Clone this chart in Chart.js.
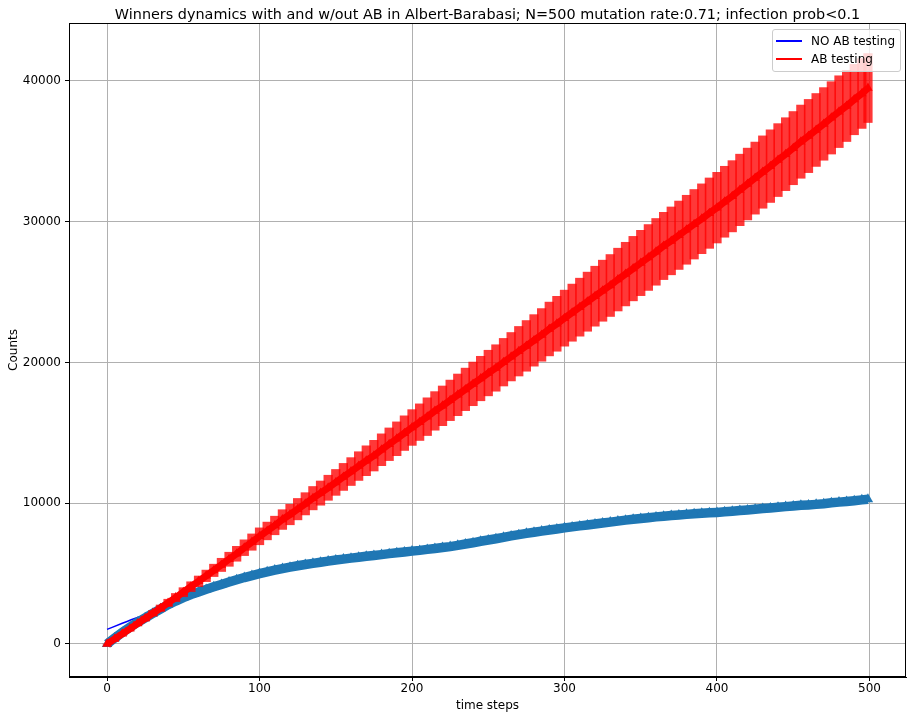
<!DOCTYPE html>
<html lang="en">
<head>
<meta charset="UTF-8">
<title>Winners dynamics with and w/out AB</title>
<script src="https://cdn.jsdelivr.net/npm/chart.js"></script>
<style>
    body { margin: 0; background: #fff; }
    .wrap { position: relative; width: 916px; height: 720px; }
    #chart { position: absolute; left: 0; top: 0; }
    .legend {
        position: absolute; left: 772px; top: 29px; width: 127px; height: 41px;
        background: rgba(255, 255, 255, 0.8); border: 1px solid #cccccc; border-radius: 3px;
        font-family: 'DejaVu Sans', sans-serif; font-size: 12px; color: #000;
    }
    .legend .row { position: absolute; left: 0; width: 127px; height: 16px; }
    .legend .swatch { position: absolute; left: 3px; top: 7px; width: 26px; height: 1.5px; }
    .legend .label { position: absolute; left: 38px; top: 0; line-height: 16px; white-space: nowrap; }
</style>
</head>
<body>
<div class="wrap">
    <canvas id="chart" width="916" height="720"></canvas>
    <div class="legend">
        <div class="row" style="top:3px"><div class="swatch" style="background:#0000ff"></div><span class="label">NO AB testing</span></div>
        <div class="row" style="top:21px"><div class="swatch" style="background:#ff0000"></div><span class="label">AB testing</span></div>
    </div>
</div>
<script>
// time steps (every 5th step)
const steps = [
    0, 5, 10, 15, 20, 25, 30, 35, 40, 45,
    50, 55, 60, 65, 70, 75, 80, 85, 90, 95,
    100, 105, 110, 115, 120, 125, 130, 135, 140, 145,
    150, 155, 160, 165, 170, 175, 180, 185, 190, 195,
    200, 205, 210, 215, 220, 225, 230, 235, 240, 245,
    250, 255, 260, 265, 270, 275, 280, 285, 290, 295,
    300, 305, 310, 315, 320, 325, 330, 335, 340, 345,
    350, 355, 360, 365, 370, 375, 380, 385, 390, 395,
    400, 405, 410, 415, 420, 425, 430, 435, 440, 445,
    450, 455, 460, 465, 470, 475, 480, 485, 490, 495,
    499
];

// NO AB testing, mean counts
const noAbCounts = [
    0, 420, 820, 1190, 1540, 1860, 2170, 2480, 2790, 3050,
    3290, 3510, 3690, 3880, 4060, 4230, 4400, 4560, 4720, 4860,
    5000, 5130, 5250, 5360, 5460, 5560, 5650, 5730, 5810, 5890,
    5970, 6030, 6100, 6160, 6230, 6290, 6350, 6420, 6480, 6540,
    6600, 6650, 6720, 6780, 6850, 6920, 7010, 7100, 7190, 7300,
    7390, 7480, 7580, 7680, 7770, 7860, 7940, 8020, 8100, 8170,
    8250, 8320, 8390, 8460, 8530, 8600, 8660, 8730, 8800, 8860,
    8920, 8970, 9030, 9080, 9130, 9170, 9210, 9250, 9290, 9320,
    9350, 9390, 9430, 9480, 9520, 9570, 9620, 9660, 9710, 9760,
    9800, 9850, 9880, 9920, 9960, 10030, 10080, 10130, 10180, 10240,
    10280
];

// AB testing, mean counts
const abCounts = [
    0, 360, 720, 1080, 1450, 1810, 2180, 2540, 2920, 3300,
    3680, 4070, 4450, 4840, 5230, 5620, 6020, 6410, 6840, 7240,
    7650, 8030, 8420, 8840, 9200, 9580, 9960, 10360, 10720, 11100,
    11480, 11870, 12250, 12640, 13020, 13380, 13800, 14190, 14580, 14980,
    15380, 15760, 16150, 16560, 16920, 17310, 17700, 18090, 18480, 18860,
    19250, 19610, 20020, 20410, 20800, 21180, 21570, 21960, 22380, 22750,
    23150, 23540, 23930, 24320, 24710, 25100, 25470, 25890, 26280, 26670,
    27070, 27460, 27860, 28280, 28640, 29040, 29430, 29820, 30210, 30610,
    31000, 31420, 31810, 32260, 32680, 33100, 33530, 33950, 34380, 34800,
    35230, 35690, 36090, 36520, 36950, 37380, 37820, 38230, 38680, 39110,
    39500
];

// AB testing, error bar half-height
const abErr = [
    0, 40, 80, 110, 140, 170, 200, 230, 260, 290,
    320, 350, 380, 410, 440, 470, 500, 530, 560, 580,
    600, 630, 660, 700, 730, 760, 790, 830, 860, 890,
    920, 960, 990, 1020, 1060, 1090, 1130, 1160, 1200, 1230,
    1270, 1300, 1340, 1370, 1410, 1440, 1480, 1510, 1550, 1580,
    1620, 1650, 1690, 1720, 1760, 1800, 1830, 1870, 1910, 1950,
    1990, 2030, 2060, 2100, 2130, 2170, 2200, 2230, 2260, 2290,
    2320, 2340, 2370, 2390, 2410, 2430, 2450, 2470, 2480, 2500,
    2510, 2520, 2530, 2540, 2550, 2560, 2570, 2580, 2590, 2590,
    2600, 2600, 2600, 2590, 2580, 2570, 2550, 2530, 2500, 2480,
    2450
];

// fitted curve for NO AB testing
const fitSteps = [0, 10, 20, 30, 40, 50, 60, 70, 80, 90, 100, 125, 150, 175, 200, 250, 300, 350, 400, 450, 499];
const fitCounts = [1040, 1470, 1880, 2250, 2640, 3130, 3520, 3900, 4230, 4560, 4840, 5400, 5830, 6150, 6450, 7240, 8100, 8780, 9220, 9680, 10150];

const xTicks = [0, 100, 200, 300, 400, 500];
const yTicks = [0, 10000, 20000, 30000, 40000];

const titleText = 'Winners dynamics with and w/out AB in Albert-Barabasi; N=500 mutation rate:0.71; infection prob<0.1';

const FONT = "'DejaVu Sans', sans-serif";

// title centred over the axes, plus top/right spines
const framePlugin = {
    id: 'frame',
    afterDraw(chart) {
        const { ctx, chartArea: a } = chart;
        ctx.save();
        ctx.strokeStyle = '#000';
        ctx.lineWidth = 1;
        ctx.strokeRect(a.left + 0.5, a.top + 0.5, a.right - a.left - 1, a.bottom - a.top - 1);
        ctx.fillStyle = '#000';
        ctx.font = '14.4px ' + FONT;
        ctx.textAlign = 'center';
        ctx.textBaseline = 'alphabetic';
        ctx.fillText(titleText, (a.left + a.right) / 2, 18.5);
        ctx.restore();
    }
};

const pts = (xs, ys) => xs.map((x, i) => ({ x: x, y: ys[i] }));

new Chart(document.getElementById('chart'), {
    type: 'bar',
    data: {
        datasets: [
            {
                type: 'line',
                label: 'NO AB testing',
                data: pts(fitSteps, fitCounts),
                borderColor: '#0000ff',
                borderWidth: 1.5,
                pointRadius: 0,
                cubicInterpolationMode: 'monotone',
                order: 4
            },
            {
                type: 'line',
                label: 'NO AB mean',
                data: pts(steps, noAbCounts),
                borderColor: '#1f77b4',
                borderWidth: 9.5,
                pointStyle: 'triangle',
                pointRadius: 6,
                pointBackgroundColor: '#1f77b4',
                pointBorderColor: '#1f77b4',
                pointBorderWidth: 0,
                order: 3
            },
            {
                type: 'bar',
                label: 'AB error',
                data: steps.map((x, i) => ({ x: x, y: [abCounts[i] - abErr[i], abCounts[i] + abErr[i]] })),
                backgroundColor: 'rgba(255, 0, 0, 0.78)',
                borderWidth: 0,
                barThickness: 8.6,
                order: 2
            },
            {
                type: 'line',
                label: 'AB testing',
                data: pts(steps, abCounts),
                borderColor: '#ff0000',
                borderWidth: 7,
                pointStyle: 'triangle',
                pointRadius: 5.5,
                pointBackgroundColor: '#ff0000',
                pointBorderColor: '#ff0000',
                pointBorderWidth: 0,
                order: 1
            }
        ]
    },
    options: {
        responsive: false,
        animation: false,
        layout: { padding: { top: 23, right: 10, left: 0, bottom: 0 } },
        plugins: {
            legend: { display: false },
            tooltip: { enabled: false },
            title: { display: false }
        },
        scales: {
            x: {
                type: 'linear',
                min: -24.95,
                max: 523.95,
                offset: false,
                grid: { color: '#b0b0b0', lineWidth: 1, offset: false, tickLength: 4, tickColor: '#000', tickWidth: 1 },
                border: { color: '#000', width: 1 },
                ticks: { color: '#000', font: { family: FONT, size: 12 }, padding: 1, maxRotation: 0, callback: v => String(v) },
                afterBuildTicks: s => { s.ticks = xTicks.map(v => ({ value: v })); },
                afterFit: s => { s.height = 43; },
                title: { display: true, text: 'time steps', color: '#000', font: { family: FONT, size: 12 }, padding: { top: 0, bottom: 7 } }
            },
            y: {
                type: 'linear',
                min: -2345,
                max: 44120,
                grid: { color: '#b0b0b0', lineWidth: 1, tickLength: 4, tickColor: '#000', tickWidth: 1 },
                border: { color: '#000', width: 1 },
                ticks: { color: '#000', font: { family: FONT, size: 12 }, padding: 4, callback: v => String(v) },
                afterBuildTicks: s => { s.ticks = yTicks.map(v => ({ value: v })); },
                afterFit: s => { s.width = 69; },
                title: { display: true, text: 'Counts', color: '#000', font: { family: FONT, size: 12 }, padding: { top: 7, bottom: 0 } }
            }
        }
    },
    plugins: [framePlugin]
});
</script>
</body>
</html>
